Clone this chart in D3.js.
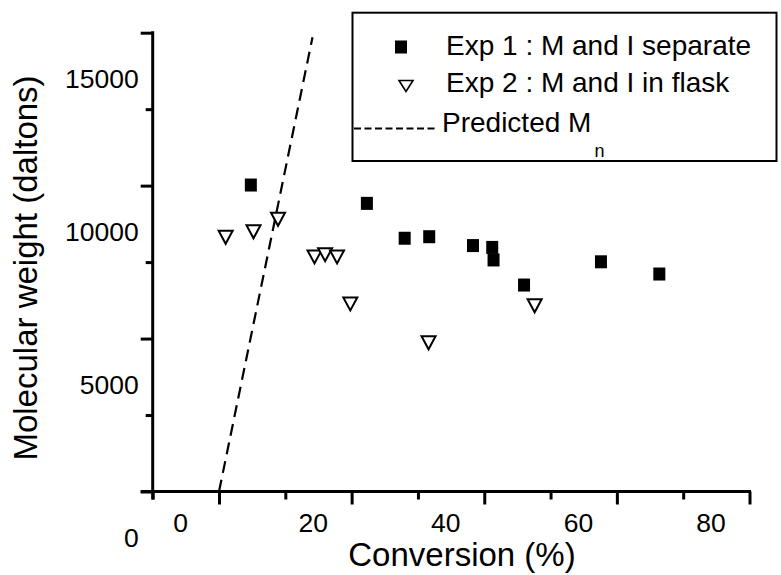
<!DOCTYPE html>
<html>
<head>
<meta charset="utf-8">
<script src="https://cdn.jsdelivr.net/npm/d3@7"></script>
<style>
  html, body { margin: 0; padding: 0; background: #fff; }
  svg { display: block; font-family: "Liberation Sans", Arial, Helvetica, sans-serif; }
  text { fill: #000; }
</style>
</head>
<body>
<svg id="chart" width="781" height="575"></svg>
<script>
// ---- data ----
const exp1Conversion = [4.8, 22.3, 28.0, 31.7, 38.3, 41.2, 41.4, 46.0, 57.6, 66.4];
const exp1MW         = [10020, 9420, 8280, 8330, 8040, 7980, 7570, 6750, 7510, 7110];
const exp2Conversion = [1.0, 5.2, 8.9, 14.4, 16.0, 17.8, 19.8, 31.6, 47.6];
const exp2MW         = [8310, 8490, 8900, 7670, 7740, 7670, 6130, 4860, 6070];
const predictedConversion = [0, 14.1];
const predictedMW         = [0, 14850];
const xMajorTicks = [0, 20, 40, 60, 80];
const xMinorTicks = [-10, 10, 30, 50, 70];
const yMajorTicks = [0, 5000, 10000, 15000];
const yMinorTicks = [2500, 7500, 12500];
const legendLabels = ["Exp 1 : M and I separate", "Exp 2 : M and I in flask", "Predicted M"];

const svg = d3.select("#chart");
const x = d3.scaleLinear().domain([-10, 80]).range([152.7, 749.5]);
const y = d3.scaleLinear().domain([0, 15000]).range([491.5, 32.7]);

const axisW = 3;

// x axis
const gx = svg.append("g").attr("transform", `translate(0,${y(0)})`);
gx.call(d3.axisBottom(x).tickValues(xMinorTicks).tickSize(8).tickSizeOuter(0).tickFormat(""));
gx.call(g => g.select(".domain").remove());
const gx2 = svg.append("g").attr("transform", `translate(0,${y(0)})`);
gx2.call(d3.axisBottom(x).tickValues(xMajorTicks).tickSize(13).tickSizeOuter(0).tickFormat(d3.format("d")));
gx2.select(".domain").attr("d", `M${x(-10) - 12},0H${x(80) + 1.5}`);
[gx, gx2].forEach(g => {
  g.selectAll("path, line").attr("stroke", "#000").attr("stroke-width", axisW);
});
gx2.selectAll("text")
  .attr("font-size", 26.5).attr("fill", "#000")
  .attr("x", -39).attr("y", 22).attr("dy", "0.71em");

// y axis
const gy = svg.append("g").attr("transform", `translate(${x(-10)},0)`);
gy.call(d3.axisLeft(y).tickValues(yMinorTicks).tickSize(7).tickSizeOuter(0).tickFormat(""));
gy.call(g => g.select(".domain").remove());
const gy2 = svg.append("g").attr("transform", `translate(${x(-10)},0)`);
gy2.call(d3.axisLeft(y).tickValues(yMajorTicks).tickSize(12).tickSizeOuter(0).tickFormat(d3.format("d")));
gy2.select(".domain").attr("d", `M0,${y(15000) - 1.5}V${y(0) + 8}`);
[gy, gy2].forEach(g => {
  g.selectAll("path, line").attr("stroke", "#000").attr("stroke-width", axisW);
});
gy2.selectAll("text")
  .attr("font-size", 26.5).attr("fill", "#000")
  .attr("x", -14).attr("y", 46).attr("dy", "0.35em");

// axis titles
svg.append("text")
  .attr("x", 462).attr("y", 566)
  .attr("text-anchor", "middle").attr("font-size", 33)
  .text("Conversion (%)");
svg.append("text")
  .attr("transform", `translate(37,268) rotate(-90)`)
  .attr("text-anchor", "middle").attr("font-size", 33)
  .text("Molecular weight (daltons)");

// predicted line
const line = d3.line().x(d => x(d[0])).y(d => y(d[1]));
svg.append("path")
  .datum(d3.zip(predictedConversion, predictedMW))
  .attr("d", line)
  .attr("fill", "none").attr("stroke", "#000").attr("stroke-width", 2.2)
  .attr("stroke-dasharray", "12,7");

// triangle path (pointing down), centred on bounding box
const tri = (w, h) => `M${-w/2},${-h/2}L${w/2},${-h/2}L0,${h/2}Z`;

// exp 2 (open triangles)
svg.append("g").selectAll("path")
  .data(d3.zip(exp2Conversion, exp2MW))
  .join("path")
  .attr("transform", d => `translate(${x(d[0])},${y(d[1])})`)
  .attr("d", tri(14, 13))
  .attr("fill", "#fff").attr("stroke", "#000").attr("stroke-width", 2)
  .attr("stroke-linejoin", "miter");

// exp 1 (filled squares)
svg.append("g").selectAll("rect")
  .data(d3.zip(exp1Conversion, exp1MW))
  .join("rect")
  .attr("x", d => x(d[0]) - 6).attr("y", d => y(d[1]) - 6.5)
  .attr("width", 12).attr("height", 13)
  .attr("fill", "#000");

// legend
const lg = svg.append("g");
lg.append("rect")
  .attr("x", 352.5).attr("y", 12.7).attr("width", 424).attr("height", 148.3)
  .attr("fill", "#fff").attr("stroke", "#000").attr("stroke-width", 2);
lg.append("rect").attr("x", 395).attr("y", 40.5).attr("width", 12).attr("height", 13).attr("fill", "#000");
lg.append("path").attr("transform", "translate(406,86)").attr("d", tri(14, 11))
  .attr("fill", "#fff").attr("stroke", "#000").attr("stroke-width", 1.6);
lg.append("line").attr("x1", 354).attr("x2", 437).attr("y1", 128.5).attr("y2", 128.5)
  .attr("stroke", "#000").attr("stroke-width", 2).attr("stroke-dasharray", "7,3.5");
lg.append("text").attr("x", 446).attr("y", 55).attr("font-size", 28).attr("fill", "#000").text(legendLabels[0]);
lg.append("text").attr("x", 446).attr("y", 92).attr("font-size", 28).attr("fill", "#000").text(legendLabels[1]);
const pt = lg.append("text").attr("x", 442).attr("y", 132).attr("font-size", 28).attr("fill", "#000").text(legendLabels[2]);
pt.append("tspan").attr("font-size", 18).attr("dy", 25).attr("dx", 3).attr("fill", "#000").text("n");
</script>
</body>
</html>
